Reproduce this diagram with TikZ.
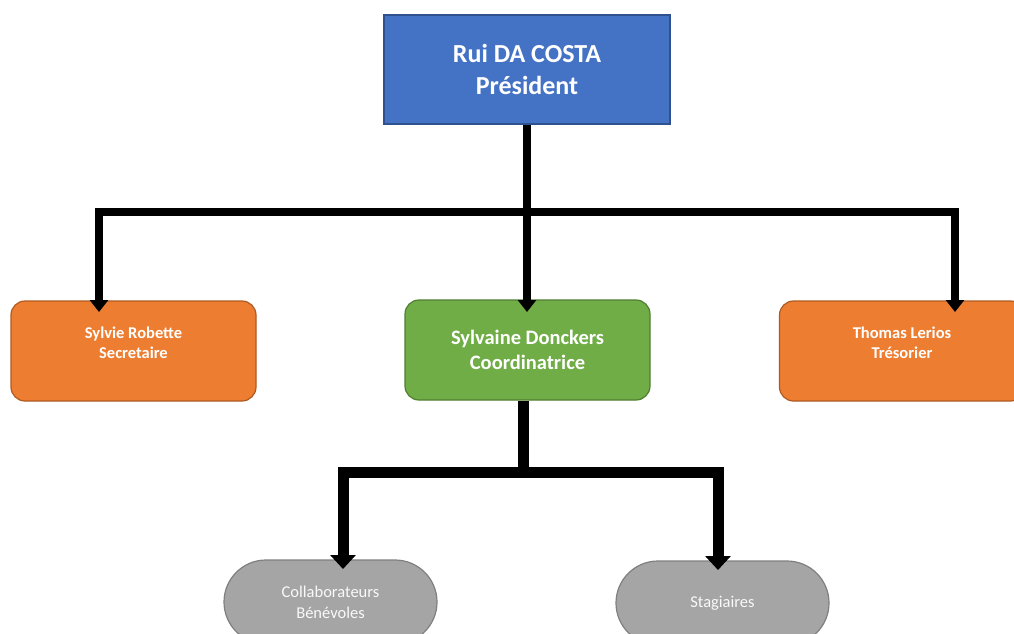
\documentclass[tikz,border=0pt]{standalone}
\usepackage{fontspec}
\setmainfont{Carlito}
\usetikzlibrary{arrows.meta}

\definecolor{presblue}{HTML}{4472C4}
\definecolor{presline}{HTML}{2F528F}
\definecolor{postorange}{HTML}{ED7D31}
\definecolor{postoline}{HTML}{AE5A21}
\definecolor{coordgreen}{HTML}{70AD47}
\definecolor{coordline}{HTML}{507E32}
\definecolor{teamgray}{HTML}{A5A5A5}
\definecolor{teamline}{HTML}{7F7F7F}

\tikzset{
	chief/.style={draw=presline, line width=1.2, fill=presblue, text=white, font=\fontsize{26}{32}\selectfont\bfseries, align=center, minimum width=286, minimum height=109},
	officer/.style={draw=postoline, line width=1.2, fill=postorange, text=white, rounded corners=14, font=\fontsize{16.5}{20}\selectfont\bfseries, align=center, minimum width=245, minimum height=100},
	coordbox/.style={draw=coordline, line width=1.2, fill=coordgreen, text=white, rounded corners=14, font=\fontsize{20.5}{25}\selectfont\bfseries, align=center, minimum width=245, minimum height=100},
	teambox/.style={draw=teamline, line width=1.2, fill=teamgray, text=white!95!gray, rounded corners=42, font=\fontsize{16.5}{21}\selectfont, align=center, minimum width=213, minimum height=84},
	wire/.style={draw=black, line width=8, line join=miter, -{Triangle[width=18,length=12]}},
	widewire/.style={draw=black, line width=11, line join=miter, -{Triangle[width=25,length=14]}}
}

\begin{document}
\begin{tikzpicture}[x=1pt, y=-1pt]
		%%%%% START %%%%%
		\useasboundingbox (0, 0) rectangle (1014, 634);
		
		\node[chief] (pres) at (527, 69.5) {Rui DA COSTA\\Président};
		
		\node[officer] (sec) at (133.5, 351) {Sylvie Robette\\Secretaire\\[-4pt]\mbox{}};
		\node[coordbox] (coord) at (527.5, 350) {Sylvaine Donckers\\Coordinatrice};
		\node[officer] (tres) at (902, 351) {Thomas Lerios\\Trésorier\\[-4pt]\mbox{}};
		
		\node[teambox] (collab) at (330.5, 602) {Collaborateurs\\Bénévoles};
		\node[teambox] (stag) at (722.5, 603) {Stagiaires};
		
		% junctions and arrow ends
		\coordinate (bus) at (527, 212);
		\coordinate (secin) at (99, 312);
		\coordinate (tresin) at (955, 312);
		\coordinate (coordin) at (527, 312);
		\coordinate (cbus) at (523, 472);
		\coordinate (collabin) at (343, 569);
		\coordinate (stagin) at (718, 570);
		
		\draw[wire] (pres.south) -- (coordin);
		\draw[wire] (bus) -| (secin);
		\draw[wire] (bus) -| (tresin);
		
		\draw[widewire, -] (cbus |- coord.south) -- (cbus);
		\draw[widewire] (cbus) -| (collabin);
		\draw[widewire] (cbus) -| (stagin);
		
		%%%%% END %%%%%
	\end{tikzpicture}
\end{document}
